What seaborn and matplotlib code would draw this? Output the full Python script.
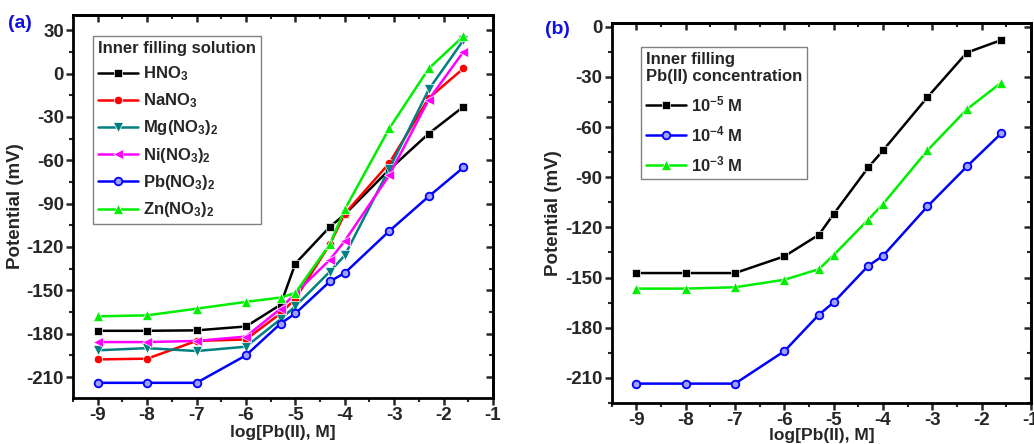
import numpy as np
import pandas as pd
import matplotlib
matplotlib.use("Agg")
import matplotlib.pyplot as plt
from matplotlib.ticker import MultipleLocator
import seaborn as sns

# ---------------- data ----------------
log_pb = [-9, -8, -7, -6, -5.3, -5, -4.3, -4, -3.1, -2.3, -1.6]

# panel (a): inner filling solution
a_names = ["HNO$_3$", "NaNO$_3$", "Mg(NO$_3$)$_2$", "Ni(NO$_3$)$_2$", "Pb(NO$_3$)$_2$", "Zn(NO$_3$)$_2$"]
hno3 = [-178, -178, -177.7, -175, -160, -131.5, -106, -97.5, -66.5, -41.5, -23]
nano3 = [-197.8, -197.3, -185, -184, -166, -155.8, -118, -97, -62, -17, 3.5]
mgno3 = [-191.5, -190, -192, -189, -170, -161, -137, -125.8, -66, -11, 23]
nino3 = [-185.8, -185.8, -185, -182, -162.7, -152, -128.8, -115.8, -70.4, -18, 15]
pbno3 = [-214, -214, -214, -195, -173, -166, -143.8, -138, -109, -85, -65]
znno3 = [-168, -167.3, -162.7, -158, -155, -151.8, -118, -94, -38, 3.5, 25.8]

# panel (b): inner filling Pb(II) concentration
b_names = ["10$^{-5}$ M", "10$^{-4}$ M", "10$^{-3}$ M"]
c1e5 = [-147.3, -147.3, -147.3, -137.3, -124.4, -112, -84.2, -74, -42.2, -15.5, -8]
c1e4 = [-213.4, -213.4, -213.4, -194, -172.2, -164.8, -143, -137, -107.5, -83.6, -63.7]
c1e3 = [-156.6, -156.6, -155.8, -151.3, -145, -136.5, -115.4, -106, -74, -49.4, -33.4]

a_yticks = [-210, -180, -150, -120, -90, -60, -30, 0, 30]
b_yticks = [-210, -180, -150, -120, -90, -60, -30, 0]
xticks = [-9, -8, -7, -6, -5, -4, -3, -2, -1]

# ---------------- style ----------------
sns.set_style("white")
plt.rcParams["font.family"] = ["Liberation Sans", "DejaVu Sans"]
plt.rcParams["font.weight"] = "bold"
plt.rcParams["axes.labelweight"] = "bold"
plt.rcParams["mathtext.fontset"] = "custom"
plt.rcParams["mathtext.rm"] = "Liberation Sans:bold"
plt.rcParams["mathtext.bf"] = "Liberation Sans:bold"
plt.rcParams["mathtext.it"] = "Liberation Sans:bold"
plt.rcParams["mathtext.default"] = "bf"

fig = plt.figure(figsize=(10.34, 4.44), dpi=100)
axA = fig.add_axes([0.0706, 0.1036, 0.4062, 0.8626])
axB = fig.add_axes([0.5916, 0.0923, 0.4055, 0.8552])

blue_face = "#a0a0ff"
a_styles = [
    dict(color="black", marker="s", ms=5.5),
    dict(color="#ff0000", marker="o", ms=6),
    dict(color="#008080", marker="v", ms=7),
    dict(color="#ff00ff", marker="<", ms=7),
    dict(color="#0000ff", marker="o", ms=5.5, mfc=blue_face, mec="#0000ff", mew=1.3),
    dict(color="#00ee00", marker="^", ms=7),
]
a_series = [hno3, nano3, mgno3, nino3, pbno3, znno3]
for name, vals, st in zip(a_names, a_series, a_styles):
    df = pd.DataFrame({"x": log_pb, "y": vals})
    sns.lineplot(data=df, x="x", y="y", ax=axA, label=name, lw=1.8,
                 markeredgewidth=st.pop("mew", 0.5), **{k: v for k, v in st.items()})

b_styles = [
    dict(color="black", marker="s", ms=5.5),
    dict(color="#0000ff", marker="o", ms=5.5, mfc=blue_face, mec="#0000ff", mew=1.3),
    dict(color="#00ee00", marker="^", ms=7),
]
b_series = [c1e5, c1e4, c1e3]
for name, vals, st in zip(b_names, b_series, b_styles):
    df = pd.DataFrame({"x": log_pb, "y": vals})
    sns.lineplot(data=df, x="x", y="y", ax=axB, label=name, lw=1.8,
                 markeredgewidth=st.pop("mew", 0.5), **{k: v for k, v in st.items()})


def style_axes(ax, yticks, ylim, xlabelpad):
    ax.set_xlim(-9.5, -1)
    ax.set_ylim(*ylim)
    ax.set_xticks(xticks)
    ax.set_yticks(yticks)
    ax.xaxis.set_minor_locator(MultipleLocator(0.5))
    ax.yaxis.set_minor_locator(MultipleLocator(15))
    ax.set_xticklabels([str(t) for t in xticks])
    ax.set_yticklabels([str(t) for t in yticks])
    for sp in ax.spines.values():
        sp.set_linewidth(2.0)
        sp.set_color("black")
    ax.tick_params(which="major", direction="out", length=5, width=1.8,
                   labelsize=13.5, pad=1.5, bottom=True, left=True, top=False, right=False)
    ax.tick_params(which="minor", direction="out", length=3, width=1.5,
                   bottom=True, left=True, top=False, right=False)
    for lab in ax.get_xticklabels() + ax.get_yticklabels():
        lab.set_fontweight("bold")
    # inward ticks on top and right
    secx = ax.secondary_xaxis("top")
    secx.set_xticks(xticks)
    secx.xaxis.set_minor_locator(MultipleLocator(0.5))
    secx.tick_params(which="major", direction="in", length=5, width=1.8, labeltop=False)
    secx.tick_params(which="minor", direction="in", length=3, width=1.5)
    secx.spines["top"].set_linewidth(2.0)
    secy = ax.secondary_yaxis("right")
    secy.set_yticks(yticks)
    secy.yaxis.set_minor_locator(MultipleLocator(15))
    secy.tick_params(which="major", direction="in", length=5, width=1.8, labelright=False)
    secy.tick_params(which="minor", direction="in", length=3, width=1.5)
    secy.spines["right"].set_linewidth(2.0)
    ax.set_xlabel("log[Pb(II), M]", fontsize=12.5, fontweight="bold", labelpad=xlabelpad)
    ax.set_ylabel("Potential (mV)", fontsize=13.5, fontweight="bold", labelpad=2)


style_axes(axA, a_yticks, (-224.5, 40.5), 0.5)
style_axes(axB, b_yticks, (-225, 2), -0.5)

legA = axA.legend(title="Inner filling solution", loc="upper left",
                  bbox_to_anchor=(0.048, 0.945), fontsize=12, title_fontsize=12,
                  frameon=True, fancybox=False, edgecolor="#808080", framealpha=1,
                  handlelength=2.4, handletextpad=0.3, labelspacing=0.5,
                  borderpad=0.3, borderaxespad=0, alignment="left")
legA.get_frame().set_linewidth(1.0)
legA.get_title().set_fontweight("bold")

legB = axB.legend(title="Inner filling\nPb(II) concentration", loc="upper left",
                  bbox_to_anchor=(0.07, 0.9376), fontsize=12, title_fontsize=12,
                  frameon=True, fancybox=False, edgecolor="#808080", framealpha=1,
                  handlelength=2.4, handletextpad=0.3, labelspacing=0.6,
                  borderpad=0.3, borderaxespad=0, alignment="left")
legB.get_frame().set_linewidth(1.0)
legB.get_title().set_fontweight("bold")

fig.text(8 / 1034, 1 - 23 / 444, "(a)", color="#1010e0", fontsize=14, fontweight="bold", va="center", ha="left")
fig.text(545 / 1034, 1 - 30 / 444, "(b)", color="#1010e0", fontsize=14, fontweight="bold", va="center", ha="left")

fig.savefig("out.png", dpi=100)
